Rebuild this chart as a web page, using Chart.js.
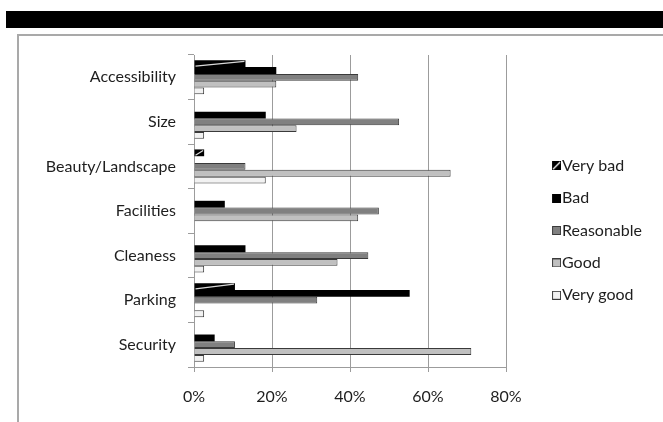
<!DOCTYPE html>
<html>
<head>
<meta charset="utf-8">
<script src="https://cdn.jsdelivr.net/npm/chart.js@4"></script>
<style>
  html, body { margin: 0; padding: 0; background: #fff; }
  #wrap { position: relative; width: 663px; height: 422px; overflow: hidden; }
  #band { position: absolute; left: 6px; top: 11px; width: 657px; height: 17px; background: #000; }
  #frame { position: absolute; left: 17px; top: 34px; width: 700px; height: 420px; border: 2px solid #a9a9a9; }
  #chart { position: absolute; left: 0; top: 0; }
</style>
</head>
<body>
<div id="wrap">
  <div id="band"></div>
  <div id="frame"></div>
  <canvas id="chart" width="663" height="422"></canvas>
</div>
<script>
// Data (percent of answers)
const categories = ['Accessibility', 'Size', 'Beauty/Landscape', 'Facilities', 'Cleaness', 'Parking', 'Security'];
const seriesNames = ['Very bad', 'Bad', 'Reasonable', 'Good', 'Very good'];
const veryBad    = [13.2, 0, 2.6, 0, 0, 10.5, 0];
const bad        = [21.1, 18.4, 0, 7.9, 13.2, 55.3, 5.3];
const reasonable = [42.1, 52.6, 13.2, 47.4, 44.7, 31.6, 10.5];
const good       = [21.1, 26.3, 65.8, 42.1, 36.8, 0, 71.1];
const veryGood   = [2.6, 2.6, 18.4, 0, 2.6, 2.6, 2.6];
const xTicks     = [0, 20, 40, 60, 80];

const FONT = 'Lato';
const FONT_SIZE = 16;
const fills = ['#000000', '#000000', '#808080', '#c0c0c0', '#f2f2f2'];
const edges = ['#000000', '#000000', '#3a3a3a', '#3a3a3a', '#3a3a3a'];

// little legend icons (9x9 square, drawn at the right of a 14px wide canvas)
function makeIcon(i) {
  const c = document.createElement('canvas');
  c.width = 14; c.height = 9;
  const g = c.getContext('2d');
  g.fillStyle = edges[i];
  g.fillRect(5, 0, 9, 9);
  g.fillStyle = fills[i];
  g.fillRect(6, 1, 7, 7);
  if (i === 0) {
    g.strokeStyle = '#ffffff';
    g.lineWidth = 1.3;
    g.beginPath();
    g.moveTo(6, 8);
    g.lineTo(13, 1);
    g.stroke();
  }
  return c;
}
const icons = seriesNames.map((n, i) => makeIcon(i));

// white diagonal streak on the "Very bad" bars
const streak = {
  id: 'streak',
  afterDatasetsDraw(chart) {
    const meta = chart.getDatasetMeta(0);
    const ctx = chart.ctx;
    ctx.save();
    ctx.strokeStyle = 'rgba(255,255,255,0.85)';
    ctx.lineWidth = 1.2;
    meta.data.forEach((bar) => {
      const p = bar.getProps(['x', 'y', 'base', 'height']);
      if (p.x - p.base < 1) return;
      ctx.beginPath();
      ctx.moveTo(p.base + 1, p.y + p.height / 2 - 1);
      ctx.lineTo(p.x - 1, p.y - p.height / 2 + 1);
      ctx.stroke();
    });
    ctx.restore();
  }
};

// keep plot right edge at the 80% line and put the legend where it sits in the picture
const legendPlace = {
  id: 'legendPlace',
  beforeLayout(chart) {
    const legend = chart.legend;
    if (legend && !legend._fixedFit) {
      const fit = legend.fit;
      legend.fit = function () { fit.call(this); this.width = 663 - 506; };
      legend._fixedFit = true;
    }
  },
  afterLayout(chart) {
    const legend = chart.legend;
    const pad = legend.options.labels.padding;
    legend.left = 554 - pad;
    legend.top = 157.7 - pad;
    legend.bottom = 422;
  }
};

const datasets = [veryBad, bad, reasonable, good, veryGood].map((vals, i) => ({
  label: seriesNames[i],
  data: vals,
  backgroundColor: fills[i],
  borderColor: edges[i],
  borderWidth: i < 2 ? 0 : 1,
  borderSkipped: 'start',
  inflateAmount: 0
}));

new Chart(document.getElementById('chart'), {
  type: 'bar',
  data: { labels: categories, datasets: datasets },
  plugins: [streak, legendPlace],
  options: {
    indexAxis: 'y',
    responsive: false,
    animation: false,
    layout: { padding: { top: 55, left: 0, right: 0, bottom: 0 } },
    datasets: { bar: { categoryPercentage: 0.763, barPercentage: 1 } },
    plugins: {
      tooltip: { enabled: false },
      legend: {
        position: 'right',
        align: 'start',
        labels: {
          font: { family: FONT, size: FONT_SIZE },
          color: '#1e1e1e',
          usePointStyle: true,
          boxWidth: 0.01,
          padding: 16.4,
          generateLabels(chart) {
            return Chart.defaults.plugins.legend.labels.generateLabels(chart).map((item, i) => {
              item.pointStyle = icons[i];
              return item;
            });
          }
        }
      }
    },
    scales: {
      x: {
        min: 0,
        max: 80,
        afterBuildTicks(scale) { scale.ticks = xTicks.map(v => ({ value: v })); },
        afterFit(scale) { scale.height = 422 - 367; },
        grid: { color: '#9c9c9c', lineWidth: 1, tickLength: 5, drawTicks: true },
        border: { display: true, color: '#9c9c9c', width: 1 },
        ticks: {
          font: { family: FONT, size: FONT_SIZE },
          color: '#1e1e1e',
          padding: 15,
          callback: (v) => v + '%'
        }
      },
      y: {
        afterFit(scale) { scale.width = 194; },
        grid: { drawOnChartArea: false, drawTicks: true, tickLength: 6, color: '#9c9c9c', offset: true },
        border: { display: true, color: '#9c9c9c', width: 1 },
        ticks: {
          font: { family: FONT, size: FONT_SIZE },
          color: '#1e1e1e',
          padding: 12
        }
      }
    }
  }
});
</script>
</body>
</html>
